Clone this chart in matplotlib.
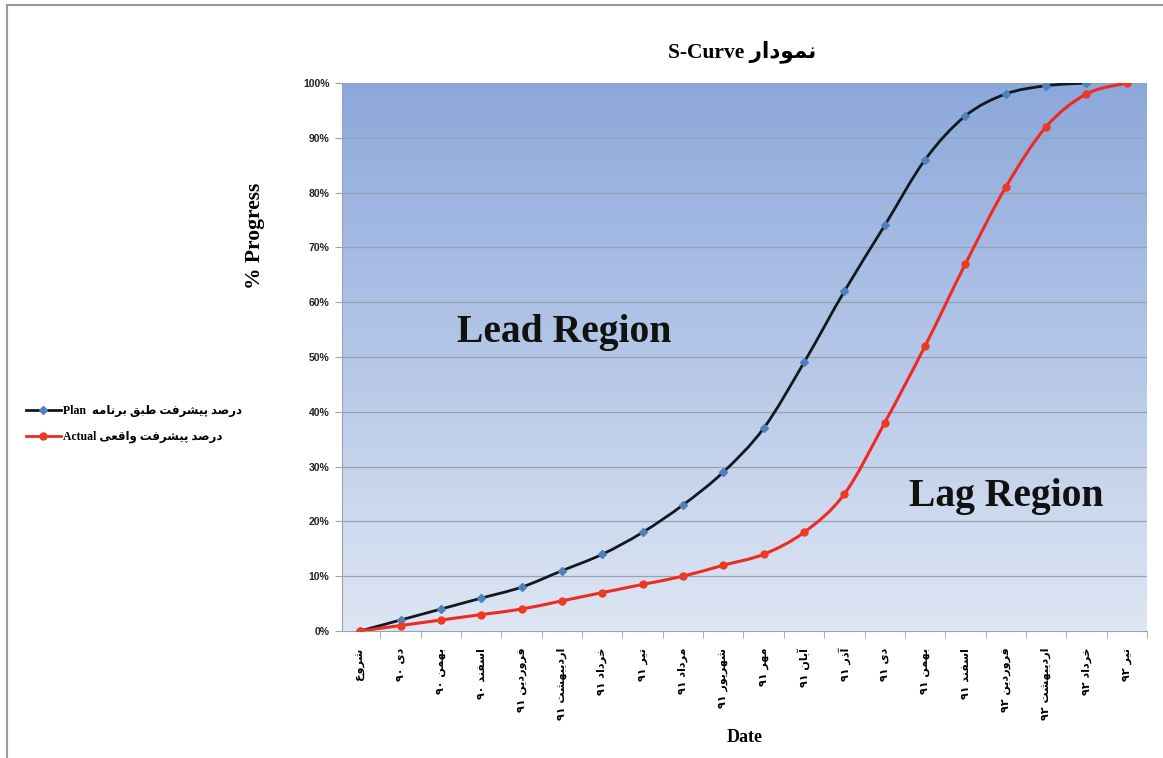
import numpy as np
import matplotlib
matplotlib.use('Agg')
import matplotlib.pyplot as plt
from matplotlib.path import Path
from matplotlib.patches import PathPatch
from matplotlib.lines import Line2D

# ---- data -------------------------------------------------------------
months = ['شروع', 'دی ۹۰', 'بهمن ۹۰', 'اسفند ۹۰', 'فروردین ۹۱', 'اردیبهشت ۹۱',
          'خرداد ۹۱', 'تیر ۹۱', 'مرداد ۹۱', 'شهریور ۹۱', 'مهر ۹۱', 'آبان ۹۱',
          'آذر ۹۱', 'دی ۹۱', 'بهمن ۹۱', 'اسفند ۹۱', 'فروردین ۹۲', 'اردیبهشت ۹۲',
          'خرداد ۹۲', 'تیر ۹۲']
plan = [0, 2, 4, 6, 8, 11, 14, 18, 23, 29, 37, 49, 62, 74, 86, 94, 98, 99.5, 100]
actual = [0, 1, 2, 3, 4, 5.5, 7, 8.5, 10, 12, 14, 18, 25, 38, 52, 67, 81, 92, 98, 100]
yticks = [0, 10, 20, 30, 40, 50, 60, 70, 80, 90, 100]

# ---- persian shaping (matplotlib has no bidi / joining) ----------------
FORMS = {
    'ا': 'ﺍﺎ', 'آ': 'ﺁﺂ', 'د': 'ﺩﺪ', 'ذ': 'ﺫﺬ', 'ر': 'ﺭﺮ', 'و': 'ﻭﻮ',
    'ب': 'ﺏﺐﺑﺒ', 'پ': 'ﭖﭗﭘﭙ', 'ت': 'ﺕﺖﺗﺘ', 'خ': 'ﺥﺦﺧﺨ', 'س': 'ﺱﺲﺳﺴ',
    'ش': 'ﺵﺶﺷﺸ', 'ص': 'ﺹﺺﺻﺼ', 'ط': 'ﻁﻂﻃﻄ', 'ع': 'ﻉﻊﻋﻌ', 'ف': 'ﻑﻒﻓﻔ',
    'ق': 'ﻕﻖﻗﻘ', 'م': 'ﻡﻢﻣﻤ', 'ن': 'ﻥﻦﻧﻨ', 'ه': 'ﻩﻪﻫﻬ', 'ی': 'ﯼﯽﯾﯿ',
}


def shape(word):
    out = []
    for i, c in enumerate(word):
        f = FORMS.get(c)
        if f is None:
            out.append(c)
            continue
        prev = word[i - 1] if i > 0 else None
        nxt = word[i + 1] if i + 1 < len(word) else None
        jp = prev in FORMS and len(FORMS[prev]) == 4
        jn = nxt in FORMS and len(f) == 4
        if jp and jn:
            out.append(f[3])
        elif jp:
            out.append(f[1])
        elif jn:
            out.append(f[2])
        else:
            out.append(f[0])
    return ''.join(out)


def fa(s):
    words = []
    for w in s.split(' ')[::-1]:
        if any(c in FORMS for c in w):
            w = shape(w)[::-1]
        words.append(w)
    return ' '.join(words)


# ---- smooth line like excel (catmull-rom -> bezier) --------------------
def smooth_path(x, y):
    x = np.asarray(x, float)
    y = np.asarray(y, float)
    verts = [(x[0], y[0])]
    codes = [Path.MOVETO]
    n = len(x)
    for i in range(n - 1):
        p0 = (x[max(i - 1, 0)], y[max(i - 1, 0)])
        p1 = (x[i], y[i])
        p2 = (x[i + 1], y[i + 1])
        p3 = (x[min(i + 2, n - 1)], y[min(i + 2, n - 1)])
        c1 = (p1[0] + (p2[0] - p0[0]) / 6, p1[1] + (p2[1] - p0[1]) / 6)
        c2 = (p2[0] - (p3[0] - p1[0]) / 6, p2[1] - (p3[1] - p1[1]) / 6)
        verts += [c1, c2, p2]
        codes += [Path.CURVE4] * 3
    return Path(verts, codes)


serif = ['Liberation Serif', 'DejaVu Sans']
plt.rcParams['font.family'] = ['Liberation Sans', 'DejaVu Sans']

fig = plt.figure(figsize=(11.63, 7.58), dpi=100)
W, H = 1163, 758
ax = fig.add_axes([342 / W, 1 - 631 / H, (1147 - 342) / W, (631 - 83) / H])

xp = np.arange(len(plan))
xa = np.arange(len(actual))

# gradient background
grad = np.linspace(0, 1, 256).reshape(-1, 1)
top = np.array([140, 168, 219]) / 255
bot = np.array([222, 230, 243]) / 255
img = bot + (top - bot) * grad[:, :, None]
ax.imshow(img, extent=[-0.45, 19.5, 0, 100], origin='lower', aspect='auto', zorder=0)

ax.set_xlim(-0.45, 19.5)
ax.set_ylim(0, 100)
for v in yticks[1:]:
    ax.axhline(v, color='#97a1b1', lw=0.9, zorder=1)

ax.add_patch(PathPatch(smooth_path(xp, plan), fill=False, ec='#101820', lw=2.0, zorder=3))
ax.add_patch(PathPatch(smooth_path(xa, actual), fill=False, ec='#ee2a24', lw=2.2, zorder=3))
ax.plot(xp, plan, ls='none', marker='D', ms=4.5, color='#4f81bd', zorder=4)
ax.plot(xa, actual, ls='none', marker='o', ms=5, color='#ee3a24', zorder=4)

ax.set_yticks(yticks)
ax.set_yticklabels([f'{v}%' for v in yticks], fontsize=7.5, fontweight='bold', color='#222222')
ax.set_xticks(xa)
ax.set_xticklabels([fa(m) for m in months], rotation=90, fontsize=8,
                   family=['DejaVu Sans'], fontweight='bold', va='top', ha='center')
ax.set_xticks(np.arange(len(actual)) + 0.5, minor=True)
ax.tick_params(axis='x', which='major', length=0, pad=12)
ax.tick_params(axis='x', which='minor', length=5, color='#9aa3b0')
ax.tick_params(axis='y', length=5, color='#9aa3b0', pad=4)
for s in ['top', 'right']:
    ax.spines[s].set_visible(False)
ax.spines['left'].set_color('#9aa3b0')
ax.spines['bottom'].set_color('#9aa3b0')

ax.text(5.05, 54.5, 'Lead Region', fontsize=28.5, fontweight='bold', family=serif,
        ha='center', va='center', color='#111111', zorder=5)
ax.text(16.0, 24.5, 'Lag Region', fontsize=28.5, fontweight='bold', family=serif,
        ha='center', va='center', color='#111111', zorder=5)

fig.text(742 / W, 1 - 52 / H, 'S-Curve ' + fa('نمودار'), fontsize=15.5, fontweight='bold',
         family=serif, ha='center', va='center')
fig.text(255 / W, 1 - 236 / H, '% Progress', fontsize=15.5, fontweight='bold',
         family=serif, rotation=90, ha='center', va='center')
fig.text(745 / W, 1 - 738 / H, 'Date', fontsize=13, fontweight='bold',
         family=serif, ha='center', va='center')

# legend drawn at the left like the excel chart
h1 = Line2D([], [], color='#101820', lw=2, marker='D', ms=4.5, mfc='#4f81bd', mec='#4f81bd')
h2 = Line2D([], [], color='#ee2a24', lw=2, marker='o', ms=5, mfc='#ee3a24', mec='#ee3a24')
fig.legend([h1, h2], ['Plan  ' + fa('درصد پیشرفت طبق برنامه'),
                      'Actual ' + fa('درصد پیشرفت واقعی')],
           loc='center left', bbox_to_anchor=(0.013, 1 - 424 / H), frameon=False,
           handlelength=3.0, handletextpad=0.15, labelspacing=1.2,
           prop={'family': serif, 'weight': 'bold', 'size': 8.5})

# thin frame like the pasted picture
fig.add_artist(Line2D([7 / W, 7 / W], [0, 1 - 5 / H], color='#9a9a9a', lw=1.5))
fig.add_artist(Line2D([7 / W, 1], [1 - 5 / H, 1 - 5 / H], color='#9a9a9a', lw=1.5))

fig.savefig('out.png', dpi=100)
